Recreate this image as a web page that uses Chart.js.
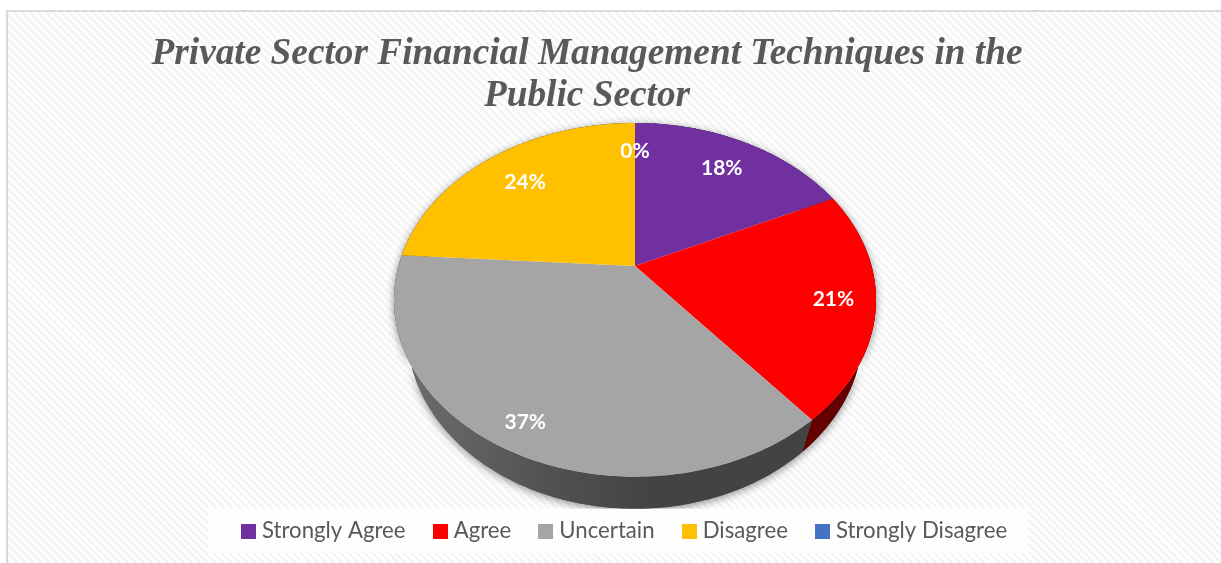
<!DOCTYPE html>
<html>
<head>
<meta charset="utf-8">
<title>Private Sector Financial Management Techniques in the Public Sector</title>
<script src="https://cdn.jsdelivr.net/npm/chart.js@4"></script>
<style>
  html, body { margin: 0; padding: 0; background: #fff; overflow: hidden; }
  #frame {
    position: absolute; left: 6px; top: 10px; width: 1215px; height: 553px;
    border-left: 2px solid #d9d9d9; border-top: 2px solid #d9d9d9; box-sizing: border-box;
    background: repeating-linear-gradient(45deg, #f5f5f5 0 2.8px, #ffffff 2.8px 5.6px);
  }
  #chart { position: absolute; left: 0; top: 0; }
</style>
</head>
<body>
<div id="frame"></div>
<canvas id="chart" width="1221" height="563"></canvas>
<script>
const titleLines = ["Private Sector Financial Management Techniques in the", "Public Sector"];
const categories = ["Strongly Agree", "Agree", "Uncertain", "Disagree", "Strongly Disagree"];
const percentages = [18, 21, 37, 24, 0];
const sliceColors = ["#7030a0", "#ff0000", "#a5a5a5", "#ffc000", "#4472c4"];
const wallColors = ["#3c1a56", "#650000", "#434343", "#8a6800", "#253e6a"];
const labelRadii = [0.77, 0.83, 0.87, 0.75, 0.78];

// tilt of the pie, the apex sits above the middle of the ellipse
const tilt = { near: -0.192, scaleX: 1.655, scaleY: 1.192, depth: 0.224, lowerRim: 0.945 };
const titleCentreX = 587;
const legendCentreX = 626.5;
const legendCentreY = 531;

function project(arc, angle, frac = 1) {
  const X = Math.cos(angle) * frac;
  const Y = Math.sin(angle) * frac;
  const d = 1 + tilt.near * Y;
  return {
    x: arc.x + tilt.scaleX * arc.outerRadius * X / d,
    y: arc.y + tilt.scaleY * arc.outerRadius * Y / d
  };
}

function lower(arc, p) {
  return {
    x: arc.x + (p.x - arc.x) * tilt.lowerRim,
    y: p.y + tilt.depth * arc.outerRadius
  };
}

function rimPoints(arc) {
  const pts = [];
  const steps = Math.max(2, Math.ceil((arc.endAngle - arc.startAngle) * 60));
  for (let i = 0; i <= steps; i++) {
    pts.push(project(arc, arc.startAngle + (arc.endAngle - arc.startAngle) * i / steps));
  }
  return pts;
}

function wallPath(ctx, arc) {
  const top = rimPoints(arc);
  const bottom = top.map(p => lower(arc, p)).reverse();
  ctx.beginPath();
  top.concat(bottom).forEach((p, i) => i ? ctx.lineTo(p.x, p.y) : ctx.moveTo(p.x, p.y));
  ctx.closePath();
}

function swatch(color) {
  const c = document.createElement("canvas");
  c.width = 15;
  c.height = 15;
  const g = c.getContext("2d");
  g.fillStyle = color;
  g.fillRect(0, 0, 15, 15);
  return c;
}

const tiltedPie = {
  id: "tiltedPie",
  afterLayout(chart) {
    const { titleBlock, legend } = chart;
    const titleShift = titleCentreX - (titleBlock.left + titleBlock.right) / 2;
    titleBlock.left += titleShift;
    titleBlock.right += titleShift;
    const legendShift = legendCentreX - (legend.left + legend.right) / 2;
    legend.left += legendShift;
    legend.right += legendShift;
    const h = legend.bottom - legend.top;
    legend.top = legendCentreY - legend.options.labels.padding - legend.options.labels.font.size / 2;
    legend.bottom = legend.top + h;
  },
  beforeDraw(chart) {
    // pale panel behind the legend
    const { ctx } = chart;
    ctx.save();
    ctx.fillStyle = "rgba(255,255,255,0.8)";
    ctx.fillRect(208, 508, 820, 45);
    ctx.restore();
  },
  beforeDatasetDraw(chart) {
    const { ctx } = chart;
    const arcs = chart.getDatasetMeta(0).data;
    const first = arcs[0];

    // side wall with its soft shadow, cut off at the legend panel
    ctx.save();
    ctx.beginPath();
    ctx.rect(0, 0, chart.width, first.y + (tilt.scaleY * first.outerRadius / (1 + tilt.near)) + tilt.depth * first.outerRadius);
    ctx.clip();
    ctx.save();
    ctx.shadowColor = "rgba(0,0,0,0.45)";
    ctx.shadowBlur = 9;
    ctx.shadowOffsetY = 2;
    ctx.fillStyle = "#555";
    arcs.forEach(arc => {
      if (arc.endAngle - arc.startAngle > 0) {
        wallPath(ctx, arc);
        ctx.fill();
      }
    });
    ctx.restore();
    arcs.forEach((arc, i) => {
      if (arc.endAngle - arc.startAngle <= 0) return;
      const g = ctx.createLinearGradient(first.x - 240, 0, first.x + 20, 0);
      g.addColorStop(0, i === 2 ? "#6f6f6f" : wallColors[i]);
      g.addColorStop(0.6, i === 2 ? "#515151" : wallColors[i]);
      g.addColorStop(1, wallColors[i]);
      ctx.fillStyle = g;
      wallPath(ctx, arc);
      ctx.fill();
    });
    ctx.restore();

    // top face, angles and colours come from the arc elements
    arcs.forEach(arc => {
      if (arc.endAngle - arc.startAngle <= 0) return;
      ctx.beginPath();
      ctx.moveTo(arc.x, arc.y);
      rimPoints(arc).forEach(p => ctx.lineTo(p.x, p.y));
      ctx.closePath();
      ctx.fillStyle = arc.options.backgroundColor;
      ctx.fill();
    });

    return false;
  },
  afterDatasetsDraw(chart) {
    const { ctx } = chart;
    const arcs = chart.getDatasetMeta(0).data;
    ctx.save();
    ctx.font = "bold 21px Lato";
    ctx.fillStyle = "#ffffff";
    ctx.textAlign = "center";
    ctx.textBaseline = "middle";
    percentages.forEach((value, i) => {
      const mid = (arcs[i].startAngle + arcs[i].endAngle) / 2;
      const p = project(arcs[i], mid, labelRadii[i]);
      ctx.fillText(value + "%", p.x, p.y + 1);
    });
    ctx.restore();
  }
};

new Chart(document.getElementById("chart"), {
  type: "pie",
  data: {
    labels: categories,
    datasets: [{
      data: percentages,
      backgroundColor: sliceColors,
      borderWidth: 0
    }]
  },
  options: {
    responsive: false,
    animation: false,
    layout: { padding: { left: 49, bottom: 90 } },
    plugins: {
      title: {
        display: true,
        text: titleLines,
        color: "#595959",
        font: { family: "'Liberation Serif'", size: 37.3, weight: "bold", style: "italic", lineHeight: 1.126 },
        padding: { top: 33, bottom: 6 }
      },
      legend: {
        position: "bottom",
        labels: {
          usePointStyle: true,
          pointStyleWidth: 5,
          boxHeight: 15,
          padding: 32,
          color: "#595959",
          font: { family: "Lato", size: 22.2 },
          generateLabels: () => categories.map((name, i) => ({
            text: name,
            fontColor: "#595959",
            pointStyle: swatch(sliceColors[i]),
            lineWidth: 0,
            hidden: false,
            index: i
          }))
        }
      },
      tooltip: { enabled: false }
    }
  },
  plugins: [tiltedPie]
});
</script>
</body>
</html>
